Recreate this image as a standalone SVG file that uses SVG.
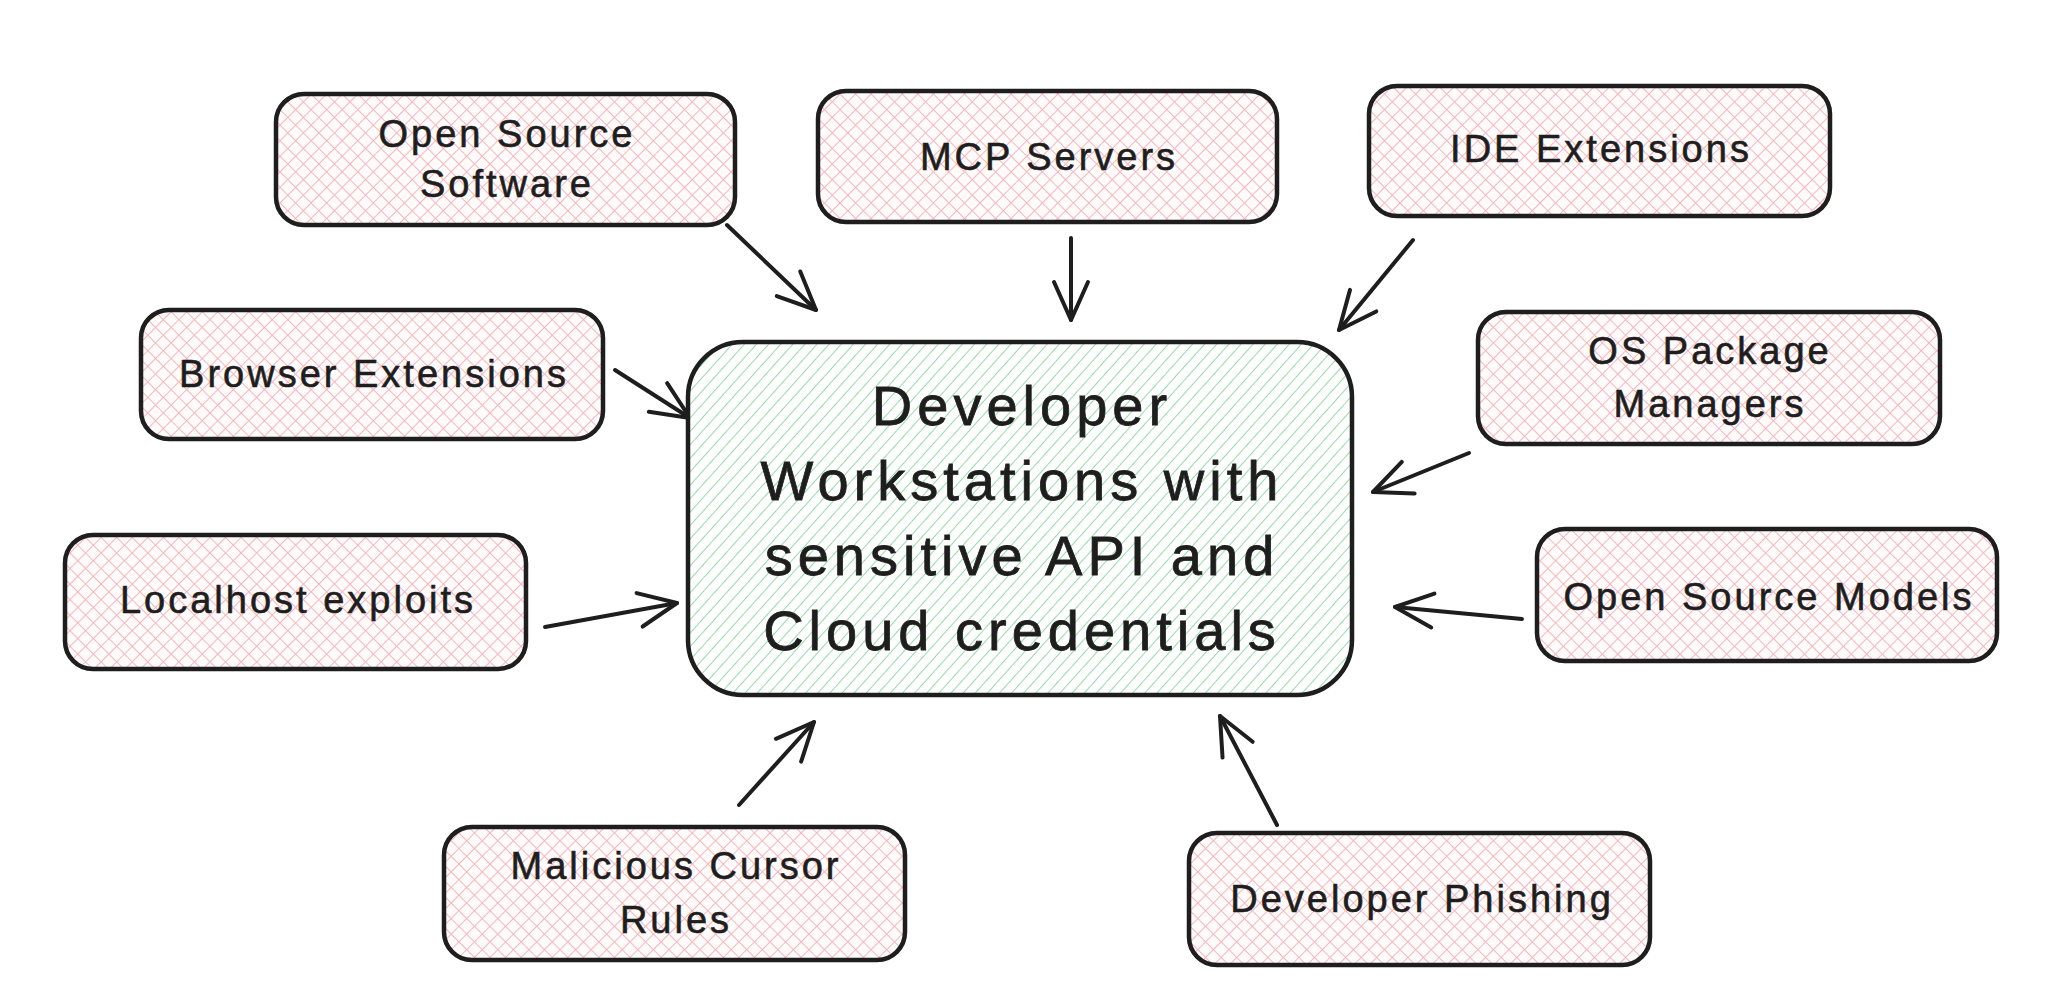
<svg xmlns="http://www.w3.org/2000/svg" width="2048" height="1007" viewBox="0 0 2048 1007">
  <defs>
    <pattern id="cross" patternUnits="userSpaceOnUse" width="11" height="11" patternTransform="rotate(45)">
      <rect width="11" height="11" fill="#fffbfb"/>
      <line x1="0" y1="0" x2="0" y2="11" stroke="#f4b6bf" stroke-width="2"/>
      <line x1="0" y1="0" x2="11" y2="0" stroke="#f4b6bf" stroke-width="2"/>
    </pattern>
    <pattern id="diag" patternUnits="userSpaceOnUse" width="9" height="9" patternTransform="rotate(42)">
      <rect width="9" height="9" fill="#ffffff"/>
      <line x1="0" y1="0" x2="0" y2="9" stroke="#96dcaa" stroke-width="2"/>
    </pattern>
    <marker id="arrow" markerUnits="userSpaceOnUse" markerWidth="60" markerHeight="60" viewBox="-50 -30 60 60" refX="0" refY="0" orient="auto">
      <path d="M-38,-17 L0,0 L-38,17" fill="none" stroke="#1e1e1e" stroke-width="4" stroke-linecap="round" stroke-linejoin="round"/>
    </marker>
    <style>
      .box { fill: url(#cross); stroke: #1e1e1e; stroke-width: 4.5; }
      .main { fill: url(#diag); stroke: #1e1e1e; stroke-width: 4.5; }
      .lbl { font-family: "Liberation Sans", Arial, sans-serif; font-size: 38px; letter-spacing: 3px; fill: #1e1e1e; stroke: #1e1e1e; stroke-width: 0.6; text-anchor: middle; }
      .big { font-family: "Liberation Sans", Arial, sans-serif; font-size: 56px; letter-spacing: 5px; fill: #1e1e1e; stroke: #1e1e1e; stroke-width: 0.8; text-anchor: middle; }
      .conn { stroke: #1e1e1e; stroke-width: 4; fill: none; stroke-linecap: round; marker-end: url(#arrow); }
    </style>
  </defs>
  <rect width="2048" height="1007" fill="#ffffff"/>

  <g id="connectors">
    <line class="conn" x1="727" y1="225" x2="816" y2="310"/>
    <line class="conn" x1="1071" y1="238" x2="1071" y2="320"/>
    <line class="conn" x1="1413" y1="240" x2="1339" y2="330"/>
    <line class="conn" x1="615" y1="370" x2="690" y2="418"/>
    <line class="conn" x1="1469" y1="453" x2="1373" y2="492"/>
    <line class="conn" x1="545" y1="627" x2="677" y2="603"/>
    <line class="conn" x1="1522" y1="619" x2="1395" y2="607"/>
    <line class="conn" x1="739" y1="805" x2="814" y2="722"/>
    <line class="conn" x1="1277" y1="825" x2="1220" y2="716"/>
  </g>

  <g id="central">
    <rect class="main" x="688" y="342" width="664" height="353" rx="55"/>
    <text class="big" x="1022" y="425">Developer</text>
    <text class="big" x="1022" y="500">Workstations with</text>
    <text class="big" x="1022" y="575">sensitive API and</text>
    <text class="big" x="1022" y="650">Cloud credentials</text>
  </g>

  <g id="open-source-software">
    <rect class="box" x="276" y="94" width="459" height="131" rx="28"/>
    <text class="lbl" x="507" y="147">Open Source</text>
    <text class="lbl" x="507" y="197">Software</text>
  </g>

  <g id="mcp-servers">
    <rect class="box" x="818" y="91" width="459" height="131" rx="28"/>
    <text class="lbl" x="1049" y="170">MCP Servers</text>
  </g>

  <g id="ide-extensions">
    <rect class="box" x="1369" y="86" width="461" height="130" rx="28"/>
    <text class="lbl" x="1601" y="162">IDE Extensions</text>
  </g>

  <g id="browser-extensions">
    <rect class="box" x="141" y="310" width="462" height="129" rx="28"/>
    <text class="lbl" x="374" y="387">Browser Extensions</text>
  </g>

  <g id="os-package-managers">
    <rect class="box" x="1478" y="312" width="462" height="132" rx="28"/>
    <text class="lbl" x="1710" y="364">OS Package</text>
    <text class="lbl" x="1710" y="417">Managers</text>
  </g>

  <g id="localhost-exploits">
    <rect class="box" x="65" y="535" width="461" height="134" rx="28"/>
    <text class="lbl" x="298" y="613">Localhost exploits</text>
  </g>

  <g id="open-source-models">
    <rect class="box" x="1537" y="529" width="460" height="132" rx="28"/>
    <text class="lbl" x="1769" y="610">Open Source Models</text>
  </g>

  <g id="malicious-cursor-rules">
    <rect class="box" x="444" y="827" width="461" height="133" rx="28"/>
    <text class="lbl" x="676" y="879">Malicious Cursor</text>
    <text class="lbl" x="676" y="933">Rules</text>
  </g>

  <g id="developer-phishing">
    <rect class="box" x="1189" y="833" width="461" height="132" rx="28"/>
    <text class="lbl" x="1422" y="912">Developer Phishing</text>
  </g>
</svg>
